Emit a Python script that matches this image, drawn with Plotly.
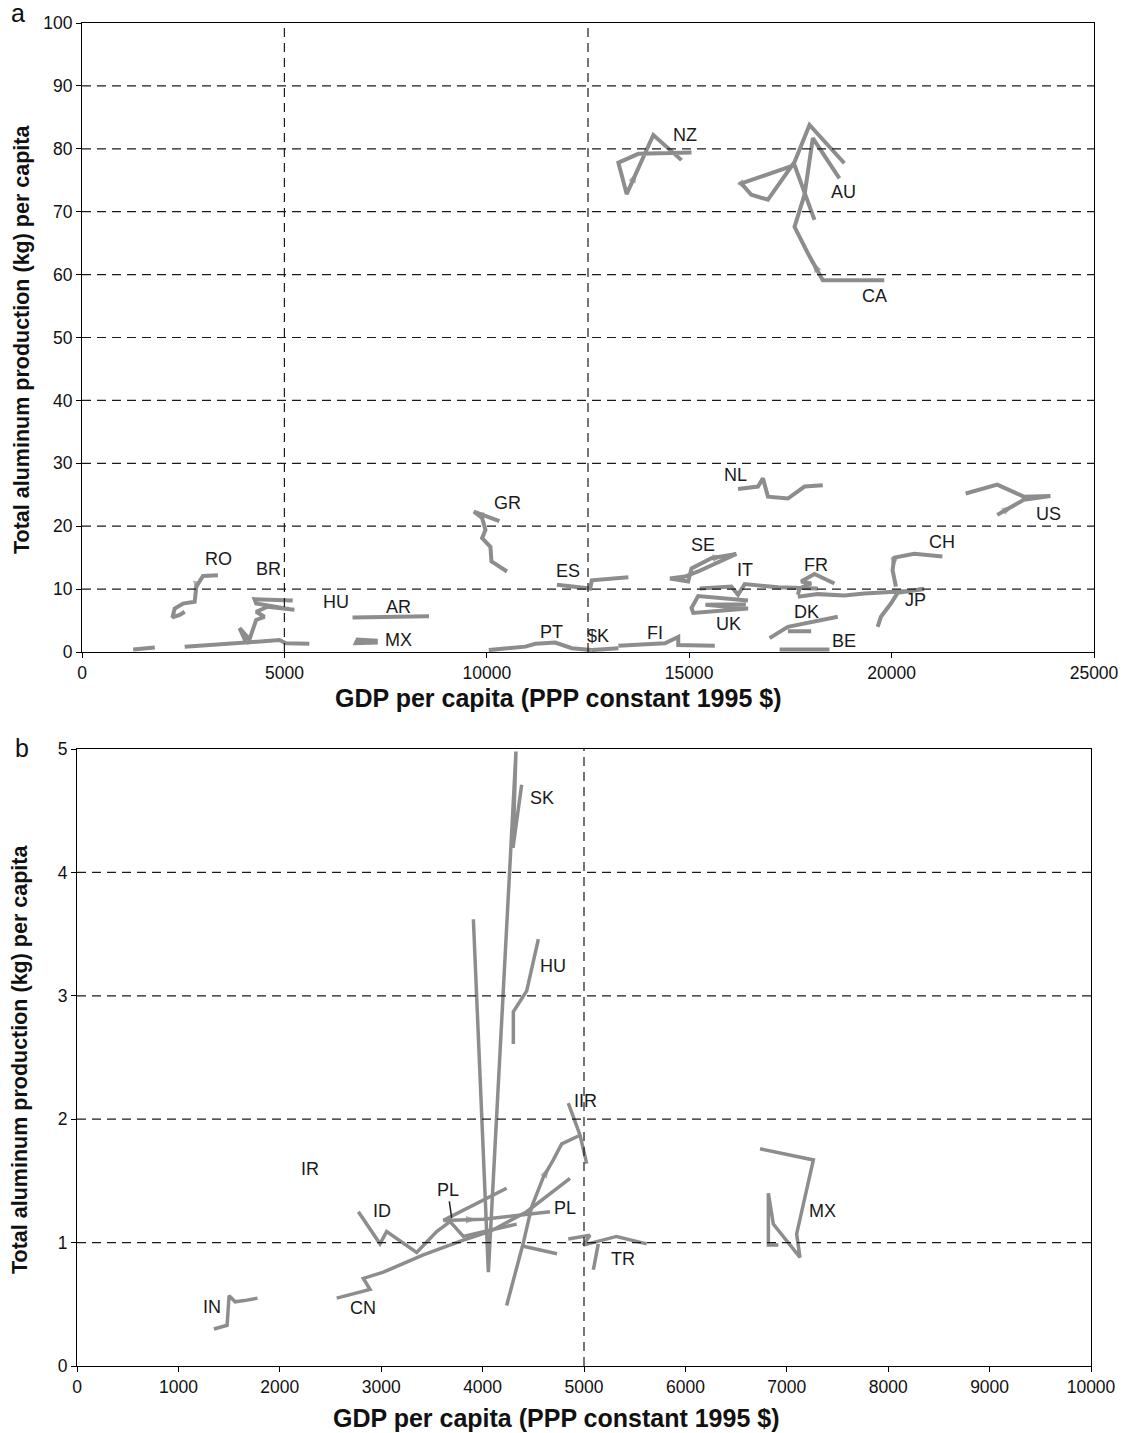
import plotly.graph_objects as go

# ---------------- Panel a data (GDP per capita, kg per capita) ----------------
NZ_x = [15057, 13743, 13251, 13455, 14113, 14648, 14810]
NZ_y = [79.4, 79.2, 77.8, 72.8, 82.2, 79.0, 78.2]
AU_x = [18095, 17602, 16288, 16534, 16945, 17602, 17972, 18834]
AU_y = [68.7, 77.4, 74.5, 72.7, 71.9, 77.9, 83.8, 77.7]
CA_x = [19820, 18300, 17931, 17602, 17849, 18054, 18711]
CA_y = [59.1, 59.1, 63.4, 67.6, 72.7, 81.7, 75.3]
RO_x = [3358, 2988, 2824, 2783, 2496, 2291, 2233, 2414, 2537]
RO_y = [12.2, 12.1, 10.4, 8.0, 7.7, 6.9, 5.5, 5.9, 6.4]
BR_x = [2537, 3399, 4056, 3892, 4138, 4302, 4507, 4302, 4589, 5246, 4548, 4302, 4261, 4877, 5205]
BR_y = [0.85, 1.3, 1.5, 3.8, 2.0, 5.1, 5.6, 6.4, 7.2, 6.7, 7.5, 7.7, 8.4, 8.3, 8.2]
HUa_x = [4056, 4877, 5041, 5616]
HUa_y = [1.5, 1.9, 1.4, 1.3]
INa_x = [1264, 1798]
INa_y = [0.4, 0.7]
AR_x = [6683, 7586, 8571]
AR_y = [5.5, 5.6, 5.7]
MXa_x = [6765, 7258, 7258, 6765, 6800]
MXa_y = [2.0, 1.8, 1.5, 1.4, 1.9]
GR_x = [10312, 9680, 9884, 9967, 9884, 10090, 10115, 10500]
GR_y = [20.8, 22.3, 21.3, 19.4, 18.1, 16.7, 14.4, 12.8]
ES_x = [11732, 12554, 12594, 13086, 13497]
ES_y = [10.7, 10.1, 11.4, 11.7, 11.9]
PT_x = [10049, 10952, 11199, 11691, 12101, 12594]
PT_y = [0.3, 0.85, 1.3, 1.5, 0.6, 0.3]
SKa_x = [12594, 13251]
SKa_y = [0.3, 0.6]
FI_x = [13251, 14401, 14729, 14729, 15632]
FI_y = [1.0, 1.4, 2.4, 1.1, 1.0]
SE_x = [14523, 14975, 15057, 15550, 16165, 15879, 15221, 14894, 14523]
SE_y = [11.7, 11.2, 13.3, 14.9, 15.6, 14.7, 12.8, 12.0, 11.7]
IT_x = [15262, 16042, 16206, 16371, 17192, 18177]
IT_y = [10.1, 10.4, 9.1, 10.8, 10.3, 10.1]
UK_x = [16453, 15221, 15057, 15100, 16453, 15400, 16400]
UK_y = [8.2, 8.9, 7.0, 6.2, 6.9, 7.5, 7.6]
CH_x = [21256, 20558, 20066, 20024, 20107]
CH_y = [15.2, 15.6, 15.0, 13.0, 10.4]
JP_x = [19655, 19737, 19983, 20148, 20804, 20394, 19327, 18834, 18177, 17684]
JP_y = [4.0, 5.6, 7.7, 9.4, 10.0, 9.7, 9.3, 9.0, 9.2, 8.8]
FR_x = [18588, 18095, 17766, 18013, 17726, 17684]
FR_y = [10.9, 12.4, 11.2, 10.9, 10.1, 9.1]
DK_x = [16986, 17438, 18670, None, 17438, 18013]
DK_y = [2.2, 4.0, 5.6, None, 3.3, 3.3]
BE_x = [17233, 18464]
BE_y = [0.4, 0.4]
NL_x = [16206, 16699, 16822, 16945, 17438, 17849, 18300]
NL_y = [25.9, 26.3, 27.6, 24.7, 24.4, 26.3, 26.5]
US_x = [22610, 23267, 23923, 23267, 22610, 21830]
US_y = [21.8, 24.2, 24.8, 24.7, 26.6, 25.2]

labels_a_text = ["NZ", "AU", "CA", "RO", "BR", "HU", "AR", "MX", "GR", "ES", "PT", "$K", "FI",
                 "SE", "IT", "UK", "NL", "US", "CH", "FR", "DK", "JP", "BE"]
labels_a_x = [14900, 18817, 19580, 3374, 4606, 6281, 7808, 7808, 10500, 12003, 11609, 12742, 14155,
              15344, 16371, 15977, 16140, 23866, 21256, 18135, 17889, 20599, 18834]
labels_a_y = [82.2, 73.1, 56.6, 14.8, 13.2, 7.9, 7.2, 1.9, 23.7, 12.9, 3.2, 2.5, 3.0,
              17.0, 13.0, 4.5, 28.1, 22.0, 17.5, 13.8, 6.4, 8.2, 1.8]

# ---------------- Panel b data ----------------
SKb_x = [3909, 4057, 4329, 4300, 4385]
SKb_y = [3.62, 0.76, 4.98, 4.2, 4.71]
HUb_x = [4550, 4435, 4303, 4303]
HUb_y = [3.46, 3.04, 2.87, 2.61]
IR_x = [4845, 4961, 5027]
IR_y = [2.13, 1.87, 1.64]
IR2_x = [4237, 4402, 4484, 4599, 4697, 4780, 4961, None, 4402, 4734]
IR2_y = [0.49, 1.00, 1.29, 1.53, 1.67, 1.80, 1.87, None, 0.97, 0.91]
CN_x = [2561, 2890, 2824, 3021, 3415, 3810, 4073, 4435, 4862]
CN_y = [0.55, 0.62, 0.71, 0.76, 0.90, 1.02, 1.09, 1.25, 1.52]
ID_x = [2775, 2988, 3054, 3350, 3547, 3679, 3810, 4336]
ID_y = [1.25, 0.99, 1.09, 0.92, 1.09, 1.17, 1.05, 1.15]
PL_x = [4237, 3613, 4007, 4665]
PL_y = [1.44, 1.18, 1.19, 1.25]
TR_x = [4845, 5059, 4993, 5322, 5618, None, 5141, 5092]
TR_y = [1.03, 1.06, 0.98, 1.05, 0.99, None, 0.99, 0.78]
INb_x = [1350, 1480, 1500, 1560, 1650, 1780]
INb_y = [0.30, 0.33, 0.57, 0.52, 0.53, 0.55]
MXb_x = [6736, 7262, 7097, 7130, 6867, 6818, 6818, 6917]
MXb_y = [1.76, 1.67, 1.07, 0.88, 1.15, 1.40, 0.98, 0.98]

labels_b_text = ["SK", "HU", "IIR", "IR", "ID", "PL", "CN", "TR", "MX", "IN"]
labels_b_x = [4583, 4691, 5010, 2298, 3005, 4813, 2824, 5388, 7354, 1331]
labels_b_y = [4.60, 3.24, 2.15, 1.60, 1.26, 1.28, 0.47, 0.87, 1.26, 0.48]
PL_pointer_x = [3695]
PL_pointer_y = [1.20]

ticks_a_x = [0, 5000, 10000, 15000, 20000, 25000]
ticks_a_y = [0, 10, 20, 30, 40, 50, 60, 70, 80, 90, 100]
ticks_b_x = [0, 1000, 2000, 3000, 4000, 5000, 6000, 7000, 8000, 9000, 10000]
ticks_b_y = [0, 1, 2, 3, 4, 5]
vlines_a = [5000, 12500]
vlines_b = [5000]

series_a = {"NZ": (NZ_x, NZ_y), "AU": (AU_x, AU_y), "CA": (CA_x, CA_y), "RO": (RO_x, RO_y),
            "BR": (BR_x, BR_y), "HU": (HUa_x, HUa_y), "IN": (INa_x, INa_y), "AR": (AR_x, AR_y),
            "MX": (MXa_x, MXa_y), "GR": (GR_x, GR_y), "ES": (ES_x, ES_y), "PT": (PT_x, PT_y),
            "SK": (SKa_x, SKa_y), "FI": (FI_x, FI_y), "SE": (SE_x, SE_y), "IT": (IT_x, IT_y),
            "UK": (UK_x, UK_y), "CH": (CH_x, CH_y), "JP": (JP_x, JP_y), "FR": (FR_x, FR_y),
            "DK": (DK_x, DK_y), "BE": (BE_x, BE_y), "NL": (NL_x, NL_y), "US": (US_x, US_y)}
series_b = {"SK": (SKb_x, SKb_y), "HU": (HUb_x, HUb_y), "IR": (IR_x, IR_y), "IR2": (IR2_x, IR2_y),
            "CN": (CN_x, CN_y), "ID": (ID_x, ID_y), "PL": (PL_x, PL_y), "TR": (TR_x, TR_y),
            "IN": (INb_x, INb_y), "MX": (MXb_x, MXb_y)}

# direction arrows: (series, segment index, fraction along segment)
arrows_a = [("NZ", 3, 0.38), ("AU", 2, 0.6), ("CA", 1, 0.7), ("GR", 2, 0.5),
            ("SE", 3, 0.5), ("CH", 2, 0.9), ("US", 0, 0.6), ("RO", 2, 0.4)]
arrows_b = [("IR2", 3, 0.6), ("PL", 1, 0.85)]

W, H = 1127, 1433
FONT = "Liberation Sans, Arial, sans-serif"
LINE_COLOR = "#8d8d8d"
GRID_DASH = "9px,6px"
GRID_COLOR = "#1a1a1a"

fig = go.Figure()
for sx, sy in series_a.values():
    fig.add_trace(go.Scatter(x=sx, y=sy, mode="lines", xaxis="x", yaxis="y",
                             line=dict(color=LINE_COLOR, width=4), showlegend=False,
                             hoverinfo="skip"))
for sx, sy in series_b.values():
    fig.add_trace(go.Scatter(x=sx, y=sy, mode="lines", xaxis="x2", yaxis="y2",
                             line=dict(color=LINE_COLOR, width=3.5), showlegend=False,
                             hoverinfo="skip"))

def add_arrows(arrows, series, xa, ya):
    for name, i, f in arrows:
        sx, sy = series[name]
        x0, y0, x1, y1 = sx[i], sy[i], sx[i + 1], sy[i + 1]
        xm, ym = x0 + f * (x1 - x0), y0 + f * (y1 - y0)
        fig.add_trace(go.Scatter(x=[x0, xm], y=[y0, ym], mode="markers", xaxis=xa, yaxis=ya,
                                 marker=dict(symbol="arrow", angleref="previous", size=[0, 12],
                                             color=LINE_COLOR, line=dict(width=0)),
                                 showlegend=False, hoverinfo="skip"))

add_arrows(arrows_a, series_a, "x", "y")
add_arrows(arrows_b, series_b, "x2", "y2")

# plot area pixel bounds
A_L, A_R, A_T, A_B = 82, 1094, 23, 652
B_L, B_R, B_T, B_B = 77, 1091, 749, 1366

def axis_common():
    return dict(showline=True, linecolor="black", linewidth=1.2, mirror=True, automargin=False,
                ticks="outside", ticklen=5, tickcolor="black", zeroline=False, showgrid=False,
                tickfont=dict(family=FONT, size=17.5, color="#111"))

fig.update_layout(
    template="none",
    width=W, height=H, margin=dict(l=0, r=0, t=0, b=0, pad=0, autoexpand=False),
    paper_bgcolor="white", plot_bgcolor="white",
    xaxis=dict(domain=[A_L / W, A_R / W], anchor="y", range=[0, 25000],
               tickvals=ticks_a_x, ticktext=[str(v) for v in ticks_a_x], **axis_common()),
    yaxis=dict(domain=[1 - A_B / H, 1 - A_T / H], anchor="x", range=[0, 100],
               tickvals=ticks_a_y, ticktext=[str(v) for v in ticks_a_y], **axis_common()),
    xaxis2=dict(domain=[B_L / W, B_R / W], anchor="y2", range=[0, 10000],
                tickvals=ticks_b_x, ticktext=[str(v) for v in ticks_b_x], **axis_common()),
    yaxis2=dict(domain=[1 - B_B / H, 1 - B_T / H], anchor="x2", range=[0, 5],
                tickvals=ticks_b_y, ticktext=[str(v) for v in ticks_b_y], **axis_common()),
)

# dashed reference/grid lines drawn above the data, as in the original
grid_line = dict(color=GRID_COLOR, width=1.2, dash=GRID_DASH)
shapes = []
for v in vlines_a:
    shapes.append(dict(type="line", xref="x", yref="y domain", x0=v, x1=v, y0=0, y1=1,
                       line=grid_line, layer="above"))
for v in ticks_a_y[1:-1]:
    shapes.append(dict(type="line", xref="x domain", yref="y", x0=0, x1=1, y0=v, y1=v,
                       line=grid_line, layer="above"))
for v in vlines_b:
    shapes.append(dict(type="line", xref="x2", yref="y2 domain", x0=v, x1=v, y0=0, y1=1,
                       line=grid_line, layer="above"))
for v in ticks_b_y[1:-1]:
    shapes.append(dict(type="line", xref="x2 domain", yref="y2", x0=0, x1=1, y0=v, y1=v,
                       line=grid_line, layer="above"))
fig.update_layout(shapes=shapes)

ann = []
lab_font = dict(family=FONT, size=18, color="#1a1a1a")
for t, x, y in zip(labels_a_text, labels_a_x, labels_a_y):
    ann.append(dict(x=x, y=y, xref="x", yref="y", text=t, showarrow=False, font=lab_font,
                    xanchor="center", yanchor="middle"))
for t, x, y in zip(labels_b_text, labels_b_x, labels_b_y):
    ann.append(dict(x=x, y=y, xref="x2", yref="y2", text=t, showarrow=False, font=lab_font,
                    xanchor="center", yanchor="middle"))
# PL label with leader line
ann.append(dict(x=PL_pointer_x[0], y=PL_pointer_y[0], xref="x2", yref="y2", text="PL",
                showarrow=True, arrowhead=0, arrowwidth=1.5, arrowcolor="#222",
                ax=-4, ay=-28, font=lab_font))

def paper_text(text, xp, yp, size, angle=0):
    return dict(x=xp / W, y=1 - yp / H, xref="paper", yref="paper", text=text,
                showarrow=False, xanchor="center", yanchor="middle", textangle=angle,
                font=dict(family=FONT, size=size, color="#111"))

XT = "<b>GDP per capita (PPP constant 1995 $)</b>"
YT = "<b>Total aluminum production (kg) per capita</b>"
ann.append(paper_text(XT, 558, 698, 25))
ann.append(paper_text(XT, 556, 1418, 25))
ann.append(paper_text(YT, 22, 340, 21.5, -90))
ann.append(paper_text(YT, 20, 1060, 21.5, -90))
ann.append(paper_text("a", 18, 13, 25))
ann.append(paper_text("b", 22, 748, 25))
fig.update_layout(annotations=ann)

fig.write_html("out.html", post_script="document.body.style.margin='0px';")
